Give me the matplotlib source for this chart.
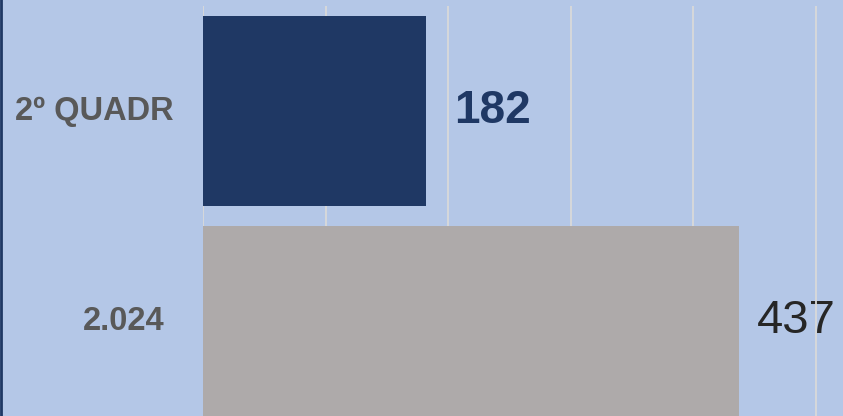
import matplotlib.pyplot as plt
from matplotlib.lines import Line2D

# chart values
categories = ['2º QUADR', '2.024']
values = [182, 437]
bar_colors = ['#1F3864', '#AEAAAA']
label_colors = ['#1F3864', '#262626']
label_weights = ['bold', 'normal']

plt.rcParams['font.family'] = ['Liberation Sans', 'DejaVu Sans']

bg = '#B4C7E7'
fig = plt.figure(figsize=(8.43, 4.16), dpi=100, facecolor=bg)
ax = fig.add_axes([203 / 843, 0, 1 - 203 / 843, 410 / 416])
ax.set_facecolor(bg)

pos = list(range(len(categories)))
ax.barh(pos, values, height=0.905, color=bar_colors, zorder=2)

ax.set_xlim(0, 522)
ax.set_ylim(1.45, -0.5)
ax.set_xticks([0, 100, 200, 300, 400, 500])
ax.grid(axis='x', color='#D9D9D9', linewidth=1.3, zorder=1)
ax.tick_params(length=0, labelbottom=False, labelleft=False)
for s in ax.spines.values():
    s.set_visible(False)

# value labels
offsets = [28, 18]
sizes = [33, 34]
for i, v in enumerate(values):
    ax.annotate(str(v), (v, i), xytext=(offsets[i], 0), textcoords='offset pixels',
                ha='left', va='center', fontsize=sizes[i], fontweight=label_weights[i],
                color=label_colors[i], zorder=0)

# category labels
label_right = [174, 164]
for i, c in enumerate(categories):
    ax.annotate(c, (0, i), xytext=(label_right[i] - 203, 0), textcoords='offset pixels',
                ha='right', va='center', fontsize=23.5, fontweight='bold',
                color='#595959', annotation_clip=False)

# dark border on the left edge
fig.add_artist(Line2D([0.001, 0.001], [0, 1], color='#1F3864', linewidth=2,
                      transform=fig.transFigure))

fig.savefig('out.png', dpi=100, facecolor=bg)
